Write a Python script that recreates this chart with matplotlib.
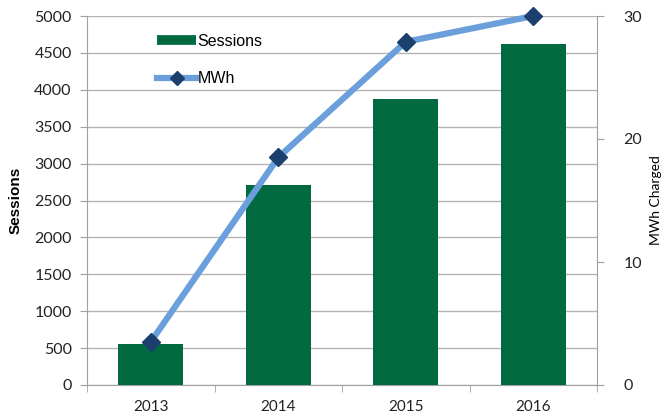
import matplotlib
matplotlib.use("Agg")
import matplotlib.pyplot as plt
from matplotlib.lines import Line2D
from matplotlib.ticker import FixedLocator

years = ["2013", "2014", "2015", "2016"]
sessions = [560, 2710, 3880, 4620]
mwh = [3.5, 18.5, 27.9, 30.0]

plt.rcParams['font.family'] = ['Lato', 'DejaVu Sans']

fig = plt.figure(figsize=(6.62, 4.18), dpi=100)
ax = fig.add_axes([87/662, 1-385/418, 510/662, 369/418])
ax2 = ax.twinx()

x = list(range(len(years)))
bar_color = "#016a40"
ax.bar(x, sessions, width=0.51, color=bar_color, zorder=3)
ax.set_xlim(-0.5, 3.5)
ax.set_ylim(0, 5000)
ax.set_yticks(range(0, 5001, 500))
ax.set_xticks(x)
ax.set_xticklabels(years)
ax.xaxis.set_minor_locator(FixedLocator([-0.5, 0.5, 1.5, 2.5, 3.5]))
ax.tick_params(axis='x', which='major', length=0, labelsize=11, pad=11, colors='#222222')
ax.tick_params(axis='x', which='minor', length=5, color='#a0a0a0', direction='out')
ax.tick_params(axis='y', length=5, color='#a0a0a0', labelsize=11.5, labelcolor='#222222', pad=6)
ax.grid(axis='y', color='#b5b5b5', linewidth=1, zorder=0)
ax.set_axisbelow(True)
for s in ['top', 'right']:
    ax.spines[s].set_visible(False)
for s in ['left', 'bottom']:
    ax.spines[s].set_color('#a0a0a0')
ax.set_ylabel("Sessions", fontsize=11, fontweight='bold', family=['Liberation Sans', 'DejaVu Sans'])
ax.yaxis.set_label_coords((23-87)/510, 0.5)

line_color = "#6a9fdc"
marker_color = "#1b406e"
ax2.plot(x, mwh, color=line_color, linewidth=4.5, marker='D', markersize=9,
         markerfacecolor=marker_color, markeredgecolor=marker_color, zorder=5, clip_on=False)
ax2.set_ylim(0, 30)
ax2.set_yticks([0, 10, 20, 30])
ax2.tick_params(axis='y', length=5, color='#a0a0a0', labelsize=11.5, labelcolor='#222222', pad=14)
for s in ['top', 'left', 'bottom']:
    ax2.spines[s].set_visible(False)
ax2.spines['right'].set_color('#a0a0a0')
ax2.set_ylabel("MWh Charged", fontsize=10)
ax2.yaxis.set_label_coords((650-87)/510, 0.5)

handles = [
    Line2D([0], [0], color=bar_color, linewidth=7, solid_capstyle='butt'),
    Line2D([0], [0], color=line_color, linewidth=4.5, marker='D', markersize=7,
           markerfacecolor=marker_color, markeredgecolor=marker_color),
]
leg = ax2.legend(handles, ["Sessions", "MWh"], loc='upper left', bbox_to_anchor=(0.11, 0.99),
                 frameon=False, handlelength=2.4, handletextpad=0.1,
                 labelspacing=1.4, prop={'family': ['Liberation Sans', 'DejaVu Sans'], 'size': 11.5})

fig.savefig("out.png", dpi=100)
